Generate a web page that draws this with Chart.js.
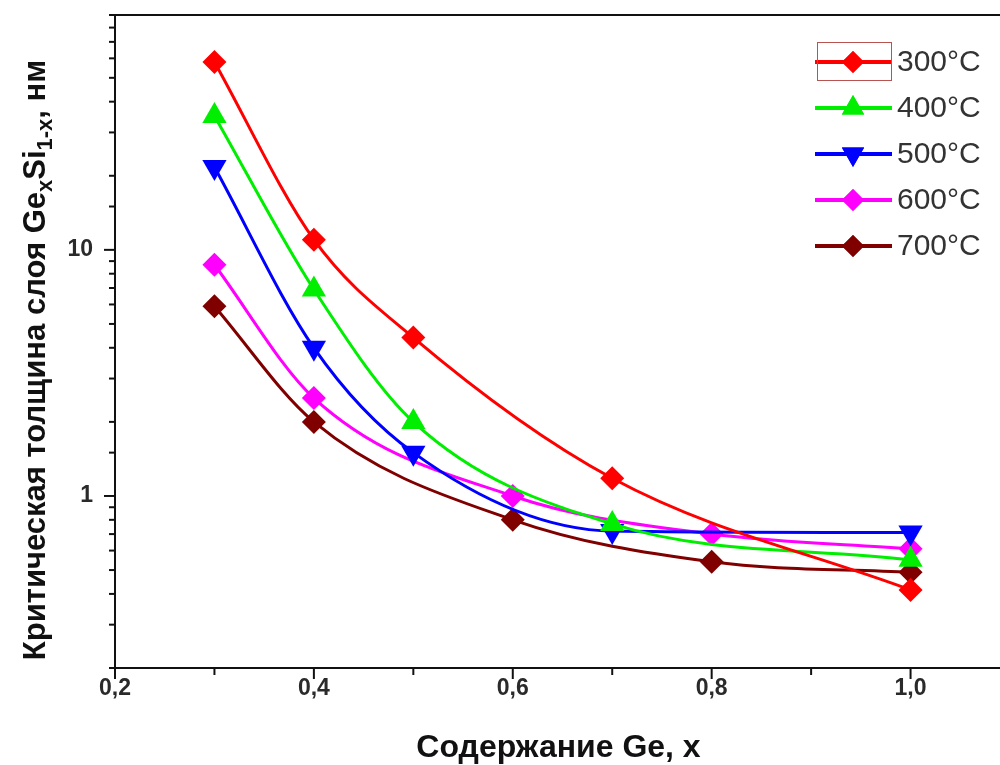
<!DOCTYPE html>
<html>
<head>
<meta charset="utf-8">
<script src="https://cdn.jsdelivr.net/npm/chart.js@4.4.1/dist/chart.umd.min.js"></script>
<style>
html, body { margin: 0; padding: 0; background: #fff; overflow: hidden; }
#wrap { width: 1000px; height: 765px; overflow: hidden; }
</style>
</head>
<body>
<div id="wrap"><canvas id="myChart" width="1030" height="765" style="width:1030px;height:765px"></canvas></div>
<script>
// series names (legend)
var names = ["300°C", "400°C", "500°C", "600°C", "700°C"];

// Ge content x and critical thickness, nm
var x_300 = [0.3, 0.4, 0.5, 0.7, 1.0];
var y_300 = [58, 11, 4.4, 1.18, 0.415];

var x_400 = [0.3, 0.4, 0.5, 0.7, 1.0];
var y_400 = [35, 6.9, 2.0, 0.77, 0.55];

var x_500 = [0.3, 0.4, 0.5, 0.7, 1.0];
var y_500 = [21.7, 4.0, 1.5, 0.72, 0.71];

var x_600 = [0.3, 0.4, 0.6, 0.8, 1.0];
var y_600 = [8.7, 2.5, 1.0, 0.70, 0.61];

var x_700 = [0.3, 0.4, 0.6, 0.8, 1.0];
var y_700 = [5.9, 2.0, 0.80, 0.54, 0.49];

// tick labels
var x_labels = {2: "0,2", 4: "0,4", 6: "0,6", 8: "0,8", 10: "1,0"};
var y_labels = {1: "1", 10: "10"};

var colors = ["#ff0000", "#00ee00", "#0000ff", "#ff00ff", "#800000"];
var styles = ["rectRot", "triangle", "triangle", "rectRot", "rectRot"];
var rotations = [0, 0, 180, 0, 0];
var radii = [12, 14, 14, 12, 12];

function pts(xs, ys) {
    var out = [];
    for (var i = 0; i < xs.length; i++) {
        out.push({x: xs[i], y: ys[i]});
    }
    return out;
}

var all_x = [x_300, x_400, x_500, x_600, x_700];
var all_y = [y_300, y_400, y_500, y_600, y_700];
var datasets = [];
for (var i = 0; i < names.length; i++) {
    datasets.push({
        label: names[i],
        data: pts(all_x[i], all_y[i]),
        showLine: true,
        borderColor: colors[i],
        backgroundColor: colors[i],
        borderWidth: 3,
        pointStyle: styles[i],
        rotation: rotations[i],
        pointRadius: radii[i],
        pointBorderWidth: 0,
        pointHoverRadius: radii[i],
        cubicInterpolationMode: "monotone"
    });
}

var FONT = "'Liberation Sans', Arial, sans-serif";

// frame, ticks, titles and legend in Origin style
var originLook = {
    id: "originLook",
    afterDraw: function(chart) {
        var ctx = chart.ctx;
        var a = chart.chartArea;
        var xs = chart.scales.x;
        var ys = chart.scales.y;
        ctx.save();

        // frame
        ctx.strokeStyle = "#111";
        ctx.lineWidth = 2;
        ctx.strokeRect(a.left, a.top, a.right - a.left, a.bottom - a.top);

        // x ticks
        xs.ticks.forEach(function(t) {
            var px = xs.getPixelForValue(t.value);
            var major = Math.round(t.value * 10) % 2 === 0;
            ctx.beginPath();
            ctx.moveTo(px, a.bottom);
            ctx.lineTo(px, a.bottom + (major ? 11 : 7));
            ctx.stroke();
        });

        // y ticks
        ys.ticks.forEach(function(t) {
            var py = ys.getPixelForValue(t.value);
            var lg = Math.log10(t.value);
            var major = Math.abs(lg - Math.round(lg)) < 1e-6;
            ctx.beginPath();
            ctx.moveTo(a.left, py);
            ctx.lineTo(a.left - (major ? 11 : 6), py);
            ctx.stroke();
        });

        // x title
        ctx.fillStyle = "#111";
        ctx.font = "bold 32px " + FONT;
        ctx.textAlign = "center";
        ctx.textBaseline = "middle";
        ctx.fillText("Содержание Ge, x", (a.left + a.right) / 2 - 4, 748);

        // y title with subscripts
        var parts = [
            ["Критическая толщина слоя Ge", false],
            ["x", true],
            ["Si", false],
            ["1-x", true],
            [", нм", false]
        ];
        var bigFont = "bold 31px " + FONT;
        var smallFont = "bold 22px " + FONT;
        var total = 0;
        parts.forEach(function(p) {
            ctx.font = p[1] ? smallFont : bigFont;
            total += ctx.measureText(p[0]).width;
        });
        ctx.translate(36, 360);
        ctx.rotate(-Math.PI / 2);
        ctx.textAlign = "left";
        ctx.textBaseline = "middle";
        var cx = -total / 2;
        parts.forEach(function(p) {
            ctx.font = p[1] ? smallFont : bigFont;
            ctx.fillText(p[0], cx, p[1] ? 10 : 0);
            cx += ctx.measureText(p[0]).width;
        });
        ctx.setTransform(1, 0, 0, 1, 0, 0);

        // legend
        chart.data.datasets.forEach(function(ds, i) {
            var ly = 62 + i * 46;
            ctx.strokeStyle = ds.borderColor;
            ctx.lineWidth = 4;
            ctx.beginPath();
            ctx.moveTo(815, ly);
            ctx.lineTo(892, ly);
            ctx.stroke();
            ctx.fillStyle = ds.backgroundColor;
            Chart.helpers.drawPoint(ctx, {
                pointStyle: ds.pointStyle,
                rotation: ds.rotation,
                radius: ds.pointRadius * 0.92,
                borderWidth: 0
            }, 853, ly);
            ctx.fill();
            ctx.fillStyle = "#333";
            ctx.font = "30px " + FONT;
            ctx.textAlign = "left";
            ctx.textBaseline = "middle";
            ctx.fillText(ds.label, 897, ly + 1);
        });
        ctx.strokeStyle = "#b85450";
        ctx.lineWidth = 1;
        ctx.strokeRect(817.5, 42.5, 74, 38);

        ctx.restore();
    }
};

const canvas = document.getElementById("myChart");
const chart = new Chart(canvas, {
    type: "scatter",
    data: { datasets: datasets },
    options: {
        responsive: false,
        animation: false,
        devicePixelRatio: 1,
        layout: { padding: { top: 15, right: 20, left: 0, bottom: 0 } },
        plugins: {
            legend: { display: false },
            tooltip: { enabled: false }
        },
        scales: {
            x: {
                type: "linear",
                min: 0.2,
                max: 1.1,
                border: { display: false },
                grid: { drawOnChartArea: false, drawTicks: true, tickLength: 4, tickColor: "rgba(0,0,0,0)" },
                ticks: {
                    stepSize: 0.1,
                    autoSkip: false,
                    maxRotation: 0,
                    padding: 3,
                    color: "#2a2a2a",
                    font: { family: FONT, size: 23, weight: "bold" },
                    callback: function(v) {
                        var k = Math.round(v * 10);
                        return x_labels[k] || "";
                    }
                },
                afterFit: function(s) {
                    s.height = 97;
                    s.paddingLeft = 0;
                    s.paddingRight = 0;
                }
            },
            y: {
                type: "logarithmic",
                min: 0.2,
                max: 90,
                border: { display: false },
                grid: { drawOnChartArea: false, drawTicks: true, tickLength: 10, tickColor: "rgba(0,0,0,0)" },
                ticks: {
                    autoSkip: false,
                    padding: 12,
                    color: "#2a2a2a",
                    font: { family: FONT, size: 23, weight: "bold" },
                    callback: function(v) {
                        return y_labels[v] || "";
                    }
                },
                afterFit: function(s) {
                    s.width = 115;
                    s.paddingTop = 0;
                    s.paddingBottom = 0;
                }
            }
        }
    },
    plugins: [originLook]
});
</script>
</body>
</html>
